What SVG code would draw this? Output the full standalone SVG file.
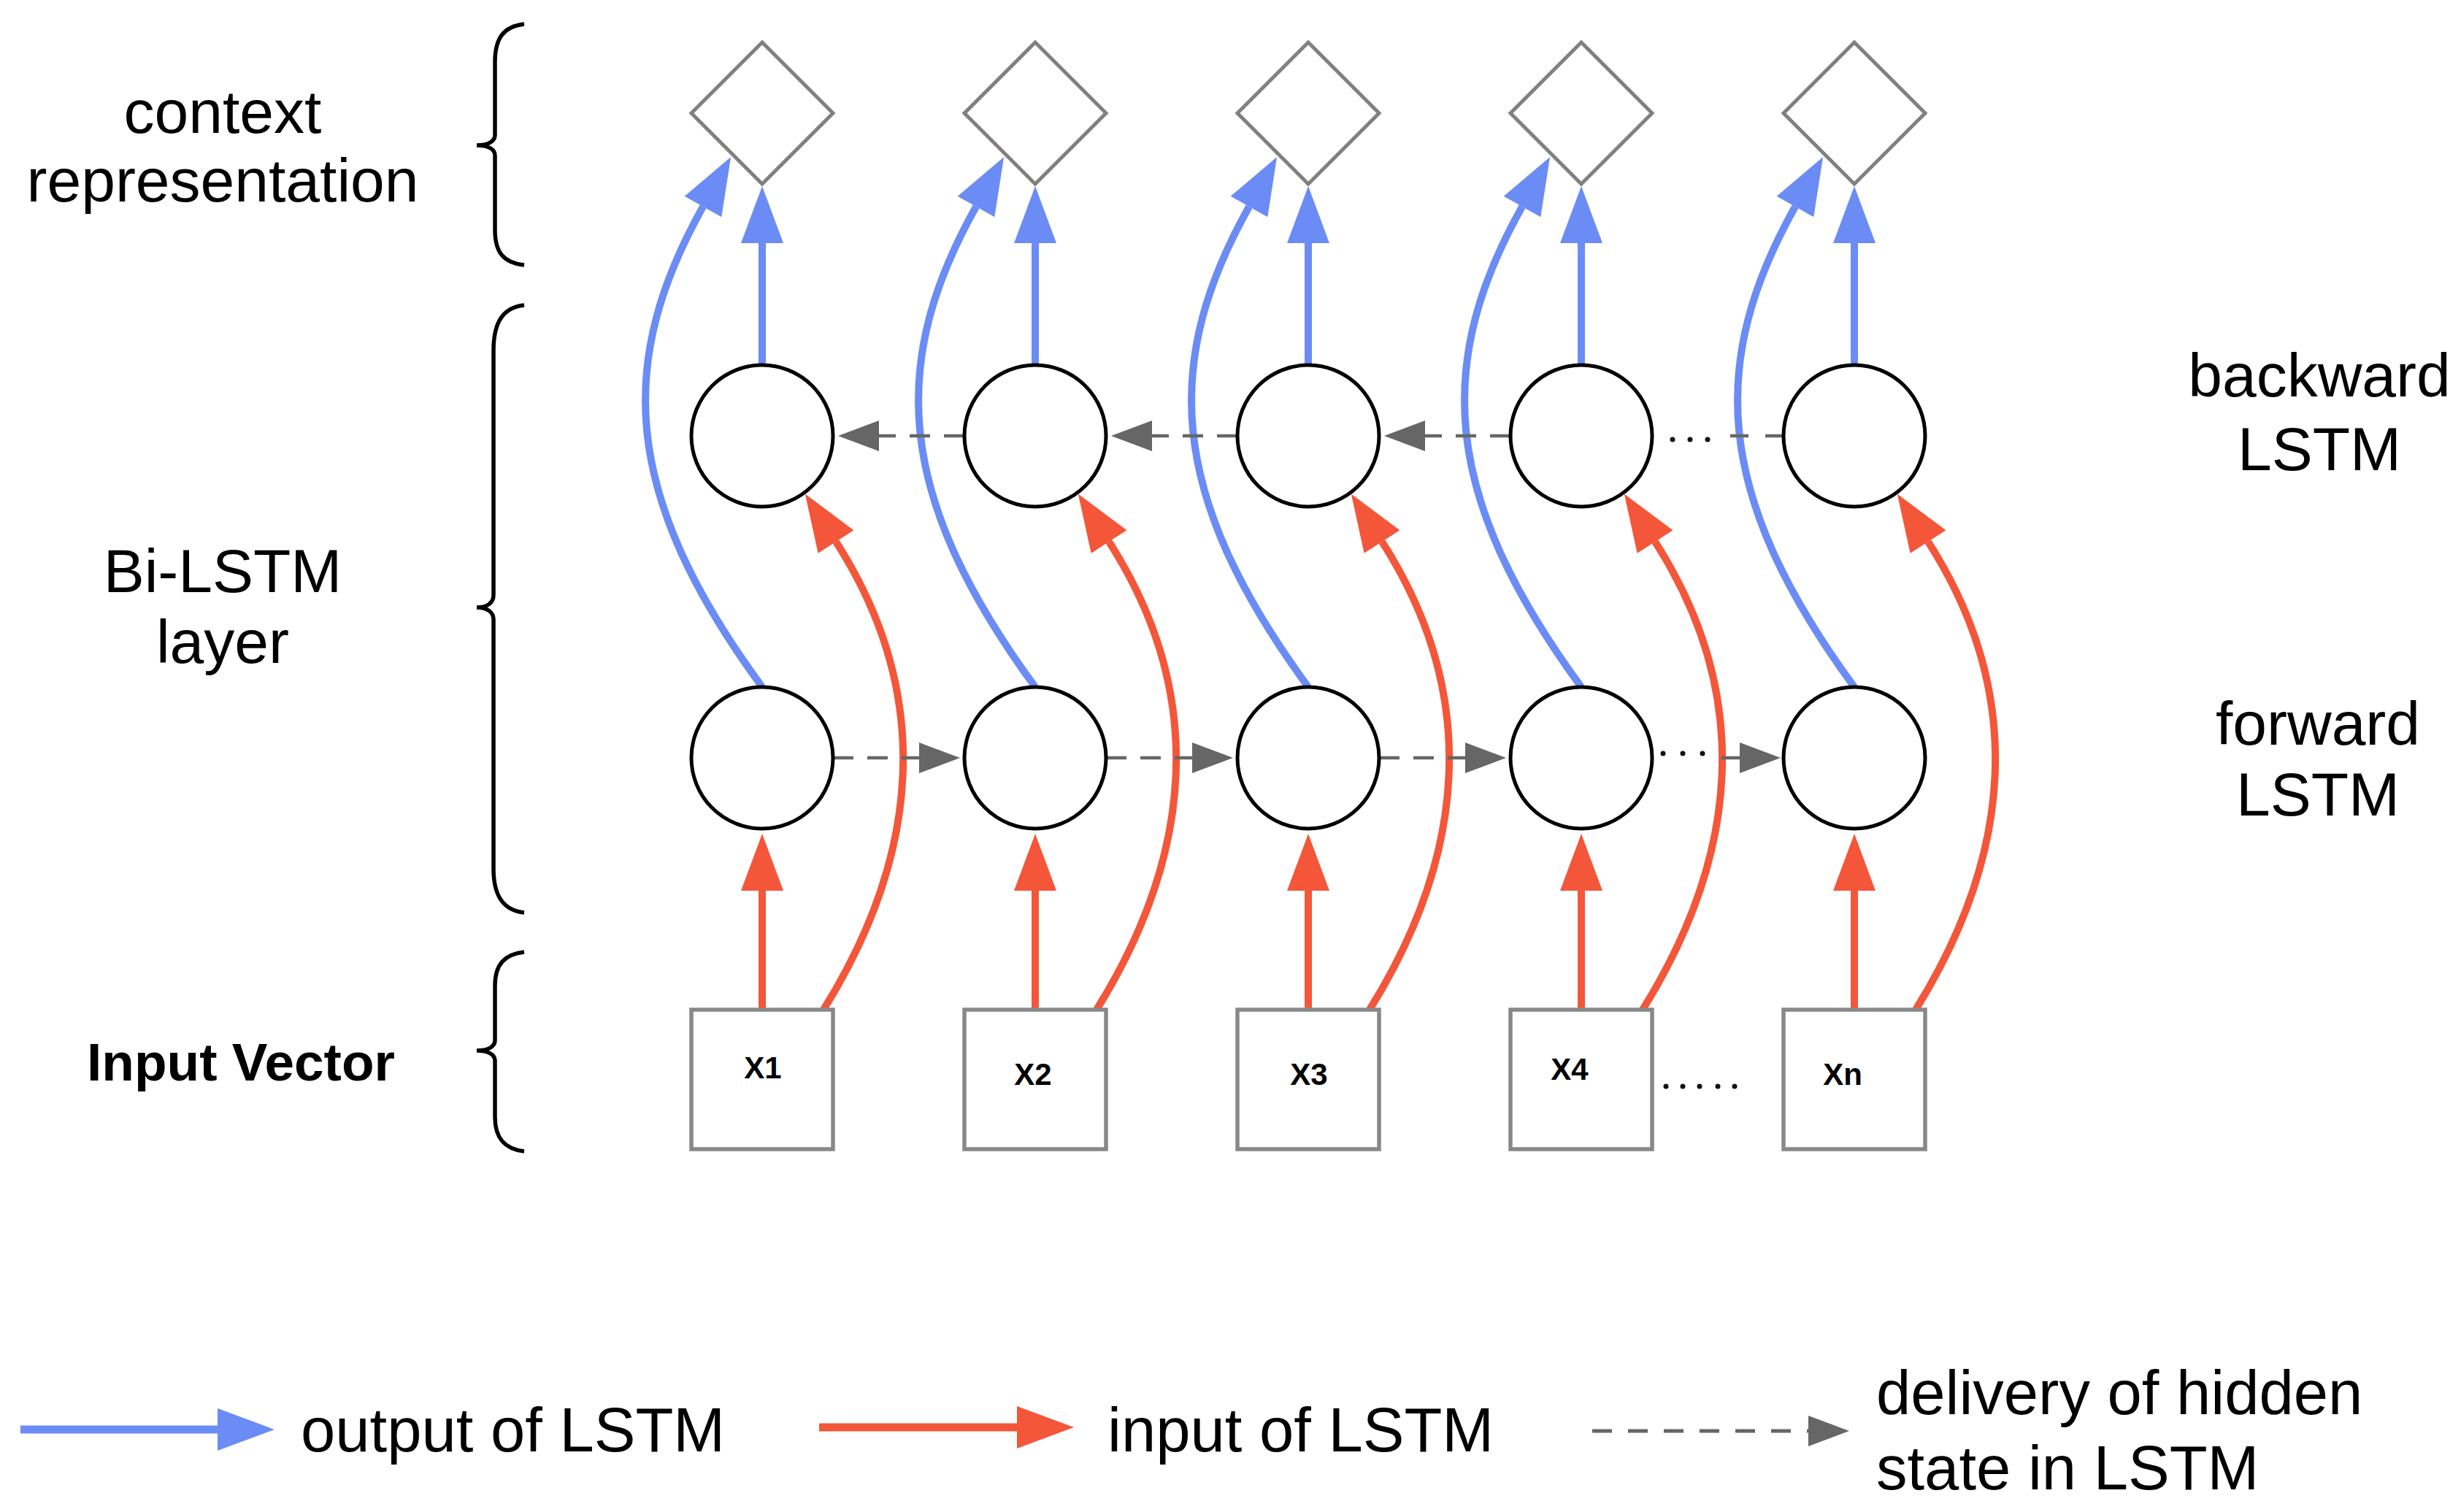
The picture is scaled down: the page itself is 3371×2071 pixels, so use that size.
<svg xmlns="http://www.w3.org/2000/svg" width="3371" height="2071" viewBox="0 0 3371 2071">
<style>
.lbl{font-family:"Liberation Sans",Arial,sans-serif;font-size:84px;fill:#000;text-anchor:middle}
.leg{font-family:"Liberation Sans",Arial,sans-serif;font-size:85px;fill:#000}
.xl{font-family:"Liberation Sans",Arial,sans-serif;font-size:42px;font-weight:bold;fill:#000;text-anchor:middle}
.blue{fill:none;stroke:#6b8cf5;stroke-width:10;marker-end:url(#ab)}
.orange{fill:none;stroke:#f4563a;stroke-width:10;marker-end:url(#ao)}
.dash{fill:none;stroke:#666;stroke-width:4.5;stroke-dasharray:28 19}
.dashm{fill:none;stroke:#666;stroke-width:4.5;stroke-dasharray:28 19;marker-end:url(#ag)}
.solidm{fill:none;stroke:#666;stroke-width:4.5;marker-end:url(#ag)}
.circ{fill:#fff;stroke:#000;stroke-width:5}
.dia{fill:#fff;stroke:#808080;stroke-width:5}
.box{fill:#fff;stroke:#888;stroke-width:5.5}
.brace{fill:none;stroke:#000;stroke-width:5.5}
.dot{fill:#111}
</style>
<defs>
<marker id="ab" viewBox="0 -29 78 58" refX="0" refY="0" markerWidth="78" markerHeight="58" markerUnits="userSpaceOnUse" orient="auto" overflow="visible"><path d="M0,-29 L78,0 L0,29 Z" fill="#6b8cf5"/></marker>
<marker id="ao" viewBox="0 -29 78 58" refX="0" refY="0" markerWidth="78" markerHeight="58" markerUnits="userSpaceOnUse" orient="auto" overflow="visible"><path d="M0,-29 L78,0 L0,29 Z" fill="#f4563a"/></marker>
<marker id="ag" viewBox="0 -21 56 42" refX="0" refY="0" markerWidth="56" markerHeight="42" markerUnits="userSpaceOnUse" orient="auto" overflow="visible"><path d="M0,-21 L56,0 L0,21 Z" fill="#666"/></marker>
</defs>
<rect width="3371" height="2071" fill="#fff"/>

<g id="braces">
<path class="brace" d="M718,33 C690,36 678,52 678,85 L678,185 C678,194 668,199 653,199 C668,199 678,204 678,213 L678,315 C678,346 690,360 718,363"/>
<path class="brace" d="M718,418 C690,421 676,440 676,480 L676,815 C676,826 667,832 653,832 C667,832 676,838 676,849 L676,1190 C676,1228 690,1247 718,1250"/>
<path class="brace" d="M718,1304 C692,1307 678,1320 678,1350 L678,1425 C678,1434 668,1439 653,1439 C668,1439 678,1444 678,1453 L678,1530 C678,1560 692,1574 718,1577"/>
</g>

<g id="labels">
<text class="lbl" x="305" y="182">context</text>
<text class="lbl" x="305" y="276">representation</text>
<text class="lbl" x="305" y="811">Bi-LSTM</text>
<text class="lbl" x="305" y="908">layer</text>
<text x="330" y="1480" style="font-family:'Liberation Sans',Arial,sans-serif;font-size:73px;font-weight:bold;text-anchor:middle">Input Vector</text>
<text class="lbl" x="3177" y="543">backward</text>
<text class="lbl" x="3177" y="644">LSTM</text>
<text class="lbl" x="3175" y="1020">forward</text>
<text class="lbl" x="3175" y="1117">LSTM</text>
</g>

<g id="connectors">
<path class="blue" d="M1044,941 C848,674 846,492 963,283"/>
<path class="blue" d="M1418,941 C1222,674 1220,492 1337,283"/>
<path class="blue" d="M1792,941 C1596,674 1594,492 1711,283"/>
<path class="blue" d="M2166,941 C1970,674 1968,492 2085,283"/>
<path class="blue" d="M2540,941 C2344,674 2342,492 2459,283"/>
<path class="blue" d="M1044,499 V333"/>
<path class="blue" d="M1418,499 V333"/>
<path class="blue" d="M1792,499 V333"/>
<path class="blue" d="M2166,499 V333"/>
<path class="blue" d="M2540,499 V333"/>
<path class="orange" d="M1128,1383 C1260,1171 1280,952 1145,742"/>
<path class="orange" d="M1502,1383 C1634,1171 1654,952 1519,742"/>
<path class="orange" d="M1876,1383 C2008,1171 2028,952 1893,742"/>
<path class="orange" d="M2250,1383 C2382,1171 2402,952 2267,742"/>
<path class="orange" d="M2624,1383 C2756,1171 2776,952 2641,742"/>
<path class="orange" d="M1044,1383 V1220"/>
<path class="orange" d="M1418,1383 V1220"/>
<path class="orange" d="M1792,1383 V1220"/>
<path class="orange" d="M2166,1383 V1220"/>
<path class="orange" d="M2540,1383 V1220"/>
<path class="dashm" d="M1321,597 H1204"/>
<path class="dashm" d="M1695,597 H1578"/>
<path class="dashm" d="M2069,597 H1952"/>
<path class="dash" d="M2443,597 H2418 M2395,597 H2370"/>
<path class="dashm" d="M1141,1038 H1259"/>
<path class="dashm" d="M1515,1038 H1633"/>
<path class="dashm" d="M1889,1038 H2007"/>
<path class="solidm" d="M2358,1038 H2383"/>
<circle class="dot" cx="2291" cy="602" r="3.5"/>
<circle class="dot" cx="2315" cy="602" r="3.5"/>
<circle class="dot" cx="2339" cy="602" r="3.5"/>
<circle class="dot" cx="2278" cy="1032" r="3.5"/>
<circle class="dot" cx="2305" cy="1032" r="3.5"/>
<circle class="dot" cx="2332" cy="1032" r="3.5"/>
<circle class="dot" cx="2282" cy="1488" r="3.5"/>
<circle class="dot" cx="2305" cy="1488" r="3.5"/>
<circle class="dot" cx="2328" cy="1488" r="3.5"/>
<circle class="dot" cx="2353" cy="1488" r="3.5"/>
<circle class="dot" cx="2376" cy="1488" r="3.5"/>
</g>

<g id="col1">
<polygon class="dia" points="1044,58 1141,155 1044,252 947,155"/>
<circle class="circ" cx="1044" cy="597" r="97"/>
<circle class="circ" cx="1044" cy="1038" r="97"/>
<rect class="box" x="947" y="1383" width="194" height="191"/>
<text class="xl" x="1045" y="1477">X1</text>
</g>
<g id="col2">
<polygon class="dia" points="1418,58 1515,155 1418,252 1321,155"/>
<circle class="circ" cx="1418" cy="597" r="97"/>
<circle class="circ" cx="1418" cy="1038" r="97"/>
<rect class="box" x="1321" y="1383" width="194" height="191"/>
<text class="xl" x="1415" y="1486">X2</text>
</g>
<g id="col3">
<polygon class="dia" points="1792,58 1889,155 1792,252 1695,155"/>
<circle class="circ" cx="1792" cy="597" r="97"/>
<circle class="circ" cx="1792" cy="1038" r="97"/>
<rect class="box" x="1695" y="1383" width="194" height="191"/>
<text class="xl" x="1793" y="1486">X3</text>
</g>
<g id="col4">
<polygon class="dia" points="2166,58 2263,155 2166,252 2069,155"/>
<circle class="circ" cx="2166" cy="597" r="97"/>
<circle class="circ" cx="2166" cy="1038" r="97"/>
<rect class="box" x="2069" y="1383" width="194" height="191"/>
<text class="xl" x="2150" y="1479">X4</text>
</g>
<g id="col5">
<polygon class="dia" points="2540,58 2637,155 2540,252 2443,155"/>
<circle class="circ" cx="2540" cy="597" r="97"/>
<circle class="circ" cx="2540" cy="1038" r="97"/>
<rect class="box" x="2443" y="1383" width="194" height="191"/>
<text class="xl" x="2524" y="1486">Xn</text>
</g>

<g id="legend">
<path d="M28,1958 H298" fill="none" stroke="#6b8cf5" stroke-width="11" marker-end="url(#ab)"/>
<text class="leg" x="412" y="1988">output of LSTM</text>
<path d="M1122,1955 H1393" fill="none" stroke="#f4563a" stroke-width="11" marker-end="url(#ao)"/>
<text class="leg" x="1517" y="1988">input of LSTM</text>
<path d="M2181,1960 H2477" fill="none" stroke="#666" stroke-width="5" stroke-dasharray="27 22" marker-end="url(#ag)"/>
<text class="leg" x="2570" y="1937">delivery of hidden</text>
<text class="leg" x="2570" y="2040">state in LSTM</text>
</g>
</svg>
